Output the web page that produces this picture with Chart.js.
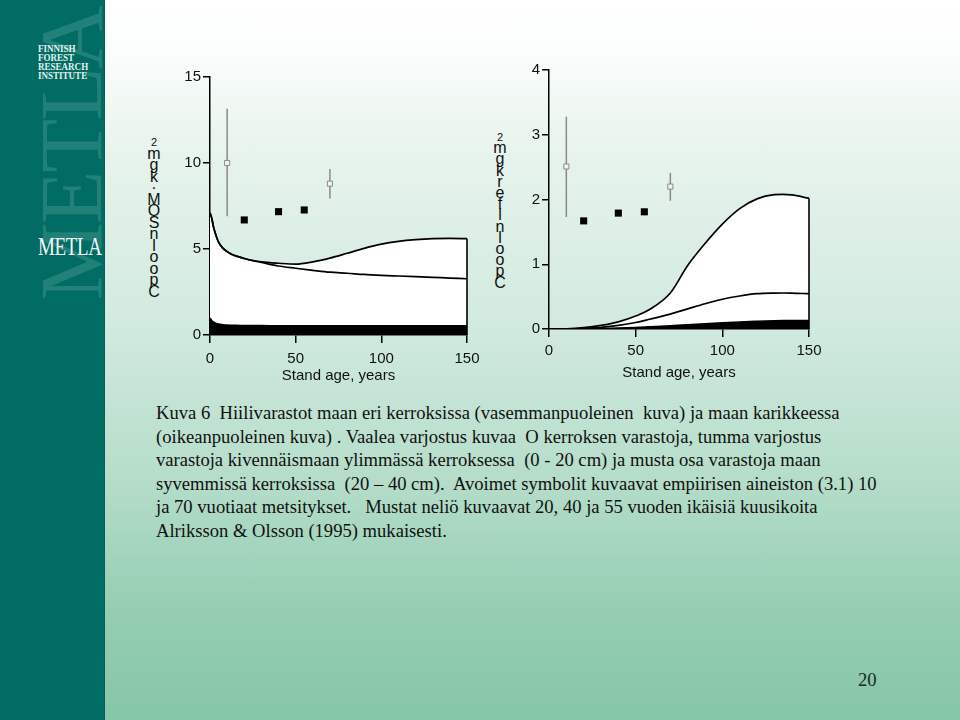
<!DOCTYPE html>
<html><head><meta charset="utf-8">
<script src="https://cdn.jsdelivr.net/npm/chart.js@4/dist/chart.umd.min.js"></script>
<style>
html,body{margin:0;padding:0;}
body{width:960px;height:720px;position:relative;overflow:hidden;
background:linear-gradient(to bottom,#ffffff 0%,#fcfefd 6%,#e6f3ec 22%,#d2eadf 45%,#b3dcc8 68%,#94cdb2 85%,#86c6a9 100%);
font-family:"Liberation Sans",Arial,sans-serif;}
#bar{position:absolute;left:0;top:0;width:104px;height:720px;background:#006c64;overflow:hidden;border-right:1px solid #0a5d57;}
#wm{position:absolute;left:-88px;top:110px;width:320px;height:88px;transform:rotate(-90deg);font-family:"Liberation Serif","Times New Roman",serif;font-size:88px;line-height:88px;color:rgba(110,180,172,0.30);text-align:center;letter-spacing:-2px;white-space:nowrap;}
#inst{position:absolute;left:38px;top:45px;font-family:"Liberation Serif",serif;font-weight:bold;font-size:9.5px;line-height:9px;color:#e6f2f0;transform:scaleX(0.95);transform-origin:left top;}
#metla{position:absolute;left:38px;top:234px;font-family:"Liberation Serif",serif;font-size:25px;line-height:26px;color:#f4faf9;transform:scaleX(0.76);transform-origin:left top;letter-spacing:-0.5px;}
.stack{position:absolute;width:18px;text-align:center;font-size:16px;color:#111;}
.stack span{display:block;height:0;overflow:visible;}
.stack span b{font-weight:normal;position:absolute;left:0;right:0;transform:translateY(-50%);top:0;}
.box{position:absolute;}
#caption{position:absolute;left:156px;top:401px;font-family:"Liberation Serif","Times New Roman",serif;font-size:18.6px;line-height:23.6px;color:#111;white-space:pre;}
#page{position:absolute;left:858px;top:669px;font-family:"Liberation Serif",serif;font-size:18.6px;color:#1a2a24;}
</style></head>
<body>
<div id="bar">
  <div id="wm">METLA</div>
  <div id="inst">FINNISH<br>FOREST<br>RESEARCH<br>INSTITUTE</div>
  <div id="metla">METLA</div>
</div>

<div class="stack" id="stack1" style="left:145px;top:142px;"></div>
<div class="stack" id="stack2" style="left:491px;top:137px;"></div>

<div class="box" style="left:140px;top:60px;width:350px;height:340px;"><canvas id="c1" width="350" height="340"></canvas></div>
<div class="box" style="left:490px;top:55px;width:340px;height:340px;"><canvas id="c2" width="340" height="340"></canvas></div>

<div id="caption">Kuva 6  Hiilivarastot maan eri kerroksissa (vasemmanpuoleinen  kuva) ja maan karikkeessa
(oikeanpuoleinen kuva) . Vaalea varjostus kuvaa  O kerroksen varastoja, tumma varjostus
varastoja kivennäismaan ylimmässä kerroksessa  (0 - 20 cm) ja musta osa varastoja maan
syvemmissä kerroksissa  (20 – 40 cm).  Avoimet symbolit kuvaavat empiirisen aineiston (3.1) 10
ja 70 vuotiaat metsitykset.   Mustat neliö kuvaavat 20, 40 ja 55 vuoden ikäisiä kuusikoita
Alriksson &amp; Olsson (1995) mukaisesti.</div>
<div id="page">20</div>

<script>
// ---------- DATA ----------
// Left panel: C pool in soil organic matter (kg m-2)
const somAges   = [0,1,2,3,5,7.5,10,12.5,15,20,25,30,40,50,60,70,80,90,100,110,120,130,140,150];
const somTotal  = [7.1,6.8,6.3,5.95,5.4,5.05,4.85,4.7,4.6,4.45,4.33,4.25,4.17,4.12,4.25,4.47,4.75,5.04,5.28,5.44,5.54,5.6,5.62,5.6];
const somOLayer = [7.1,6.8,6.3,5.95,5.4,5.05,4.85,4.7,4.6,4.45,4.32,4.22,4.01,3.88,3.76,3.65,3.59,3.52,3.47,3.43,3.39,3.35,3.31,3.27];
const somDeep   = [1.0,0.85,0.76,0.7,0.64,0.6,0.58,0.57,0.56,0.55,0.55,0.55,0.54,0.54,0.54,0.54,0.54,0.54,0.54,0.54,0.54,0.54,0.54,0.54];
const somYTicks = [0,5,10,15];
// Right panel: C pool in litter (kg m-2)
const litAges   = [0,10,20,30,40,50,58,70,80,90,100,110,120,130,135,140,150];
const litTotal  = [0,0.003,0.02,0.055,0.11,0.2,0.3,0.555,0.98,1.32,1.62,1.86,2.01,2.075,2.08,2.07,2.02];
const litMiddle = [0,0.001,0.008,0.025,0.055,0.1,0.15,0.23,0.31,0.39,0.46,0.51,0.545,0.555,0.556,0.555,0.545];
const litDeep   = [0,0,0.003,0.008,0.015,0.025,0.035,0.05,0.065,0.08,0.095,0.11,0.12,0.128,0.13,0.13,0.13];
const litYTicks = [0,1,2,3,4];
// Empirical data: open symbols (afforestations, 10 and 70 yr) with error bars
const openAges   = [10,70];
const somOpen    = [10.0,8.8];
const somOpenLo  = [6.9,7.93];
const somOpenHi  = [13.16,9.65];
const litOpen    = [2.51,2.2];
const litOpenLo  = [1.73,1.98];
const litOpenHi  = [3.28,2.41];
// Filled squares: spruce stands 20, 40, 55 yr (Alriksson & Olsson 1995)
const filledAges = [20,40,55];
const somFilled  = [6.69,7.17,7.27];
const litFilled  = [1.67,1.79,1.81];
const xTicks     = [0,50,100,150];
const xTitle     = 'Stand age, years';
const stack1Letters = ['2','m','g','k','·','M','O','S','n','l','o','o','p','C'];
const stack2Letters = ['2','m','g','k','r','e','f','l','n','l','o','o','p','C'];

// ---------- stacked (garbled) y-axis titles ----------
function buildStack(id, letters, spacing){
  const el = document.getElementById(id);
  letters.forEach((ch,i)=>{
    const s = document.createElement('span');
    s.style.position='absolute'; s.style.left='0'; s.style.right='0';
    s.style.top = (i*spacing)+'px';
    const t = document.createElement('b');
    t.textContent = ch;
    if(i===0){ t.style.fontSize='11px'; }
    s.appendChild(t); el.appendChild(s);
  });
}
buildStack('stack1', stack1Letters, 11.5);
buildStack('stack2', stack2Letters, 11.2);

// ---------- plugins ----------
const errorBars = {
  id:'errorBars',
  beforeDatasetsDraw(chart, args, o){
    const {ctx, scales:{x,y}} = chart;
    ctx.save();
    ctx.strokeStyle = o.color; ctx.lineWidth = o.width;
    o.xs.forEach((xv,i)=>{
      const px = x.getPixelForValue(xv);
      ctx.beginPath();
      ctx.moveTo(px, y.getPixelForValue(o.lo[i]));
      ctx.lineTo(px, y.getPixelForValue(o.hi[i]));
      ctx.stroke();
    });
    ctx.restore();
  }
};
const edgeLine = {
  id:'edgeLine',
  afterDatasetsDraw(chart, args, o){
    const {ctx, scales:{x,y}} = chart;
    const px = x.getPixelForValue(o.x);
    ctx.save();
    ctx.strokeStyle = '#000'; ctx.lineWidth = 1.6;
    ctx.beginPath();
    ctx.moveTo(px, y.getPixelForValue(o.top));
    ctx.lineTo(px, y.getPixelForValue(0));
    ctx.stroke();
    ctx.restore();
  }
};

const pts = (xs, ys) => xs.map((v,i)=>({x:v, y:ys[i]}));
const tickFont = {family:'"Liberation Sans", Arial, sans-serif', size:15};

function makeChart(id, p){
  return new Chart(document.getElementById(id), {
    type:'line',
    data:{datasets:[
      {data:pts(filledAges,p.filled), showLine:false, pointStyle:'rect', pointRadius:5, pointBackgroundColor:'#000', pointBorderColor:'#000', pointBorderWidth:0},
      {data:pts(openAges,p.open), showLine:false, pointStyle:'rect', pointRadius:3.6, pointBackgroundColor:'#f2f2f2', pointBorderColor:'#8a8a8a', pointBorderWidth:1},
      {data:pts(p.ages,p.deep), fill:'origin', backgroundColor:'#000', borderColor:'#000', borderWidth:1.5, pointRadius:0, cubicInterpolationMode:'monotone'},
      {data:pts(p.ages,p.mid), fill:false, borderColor:'#000', borderWidth:1.7, pointRadius:0, cubicInterpolationMode:'monotone'},
      {data:pts(p.ages,p.total), fill:'origin', backgroundColor:'#fff', borderColor:'#000', borderWidth:1.7, pointRadius:0, cubicInterpolationMode:'monotone'}
    ]},
    options:{
      responsive:false, animation:false, devicePixelRatio:1,
      layout:{padding:p.pad},
      plugins:{legend:{display:false}, tooltip:{enabled:false},
        errorBars:{xs:openAges, lo:p.lo, hi:p.hi, color:'#8a8a8a', width:1.5},
        edgeLine:{x:150, top:p.total[p.total.length-1]}},
      scales:{
        x:{type:'linear', min:0, max:150,
          afterBuildTicks:(s)=>{s.ticks = xTicks.map(v=>({value:v}));},
          afterFit:(s)=>{s.height = p.xh;},
          ticks:{font:tickFont, color:'#111', padding:p.xpad, maxRotation:0},
          grid:{drawOnChartArea:false, drawTicks:true, tickLength:8, color:'#000', lineWidth:1.5},
          border:{display:true, color:'#000', width:1.5},
          title:{display:true, text:xTitle, font:tickFont, color:'#111', padding:{top:0,bottom:p.tpad}}},
        y:{min:0, max:p.ymax,
          afterBuildTicks:(s)=>{s.ticks = p.yt.map(v=>({value:v}));},
          afterFit:(s)=>{s.width = p.yw;},
          ticks:{font:tickFont, color:'#111', padding:2},
          grid:{drawOnChartArea:false, drawTicks:true, tickLength:7, color:'#000', lineWidth:1.5},
          border:{display:true, color:'#000', width:1.5}}
      }
    },
    plugins:[errorBars, edgeLine]
  });
}

makeChart('c1', {ages:somAges, total:somTotal, mid:somOLayer, deep:somDeep, open:somOpen, lo:somOpenLo, hi:somOpenHi, filled:somFilled,
  ymax:15, yt:somYTicks, yw:70, xh:65, xpad:7, tpad:15, pad:{top:17,right:23,left:0,bottom:0}});
makeChart('c2', {ages:litAges, total:litTotal, mid:litMiddle, deep:litDeep, open:litOpen, lo:litOpenLo, hi:litOpenHi, filled:litFilled,
  ymax:4, yt:litYTicks, yw:59, xh:66, xpad:5, tpad:13, pad:{top:15,right:21,left:0,bottom:0}});
</script>
</body></html>
